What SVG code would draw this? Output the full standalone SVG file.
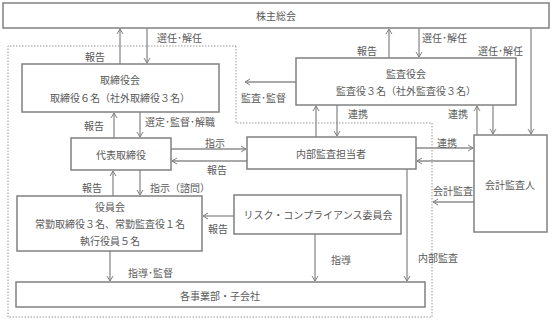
<svg xmlns="http://www.w3.org/2000/svg" width="553" height="321" viewBox="0 0 553 321">
<defs>
<marker id="ah" markerWidth="8" markerHeight="8" refX="6" refY="4" orient="auto" markerUnits="userSpaceOnUse">
<path d="M1,1 L6,4 L1,7" fill="none" stroke="#808080" stroke-width="1"/>
</marker>
<style>
.box{fill:#fff;stroke:#808080;stroke-width:1.5}
.t{font-family:"Noto Sans CJK JP","Noto Sans",sans-serif;font-size:10px;fill:#595959;text-anchor:middle;dominant-baseline:central}
.l{font-family:"Noto Sans CJK JP","Noto Sans",sans-serif;font-size:10px;fill:#595959;dominant-baseline:central}
.c{fill:none;stroke:#8c8c8c;stroke-width:1.3;marker-end:url(#ah)}
.dot{fill:none;stroke:#999;stroke-width:1;stroke-dasharray:1.5 1.5}
</style>
</defs>
<rect width="553" height="321" fill="#fff"/>
<path class="dot" d="M236,46 L236,123 L432,123 L432,317 L8,317 L8,46 Z"/>
<g id="connectors">
<line class="c" x1="120" y1="64" x2="120" y2="29"/>
<line class="c" x1="147" y1="28" x2="147" y2="63"/>
<line class="c" x1="114" y1="138" x2="114" y2="113"/>
<line class="c" x1="140" y1="112" x2="140" y2="137"/>
<line class="c" x1="171" y1="149" x2="246" y2="149"/>
<line class="c" x1="247" y1="161" x2="172" y2="161"/>
<line class="c" x1="113" y1="196" x2="113" y2="171"/>
<line class="c" x1="140" y1="170" x2="140" y2="195"/>
<line class="c" x1="296" y1="82" x2="245" y2="82"/>
<line class="c" x1="316" y1="137" x2="316" y2="106"/>
<line class="c" x1="337" y1="105" x2="337" y2="136"/>
<line class="c" x1="477" y1="135" x2="477" y2="106"/>
<line class="c" x1="493" y1="105" x2="493" y2="134"/>
<line class="c" x1="531" y1="28" x2="531" y2="134"/>
<line class="c" x1="389" y1="58" x2="389" y2="29"/>
<line class="c" x1="419" y1="28" x2="419" y2="57"/>
<line class="c" x1="416" y1="148" x2="473" y2="148"/>
<line class="c" x1="474" y1="161" x2="417" y2="161"/>
<line class="c" x1="474" y1="202" x2="433" y2="202"/>
<line class="c" x1="407" y1="169" x2="407" y2="281"/>
<line class="c" x1="234" y1="216" x2="203" y2="216"/>
<line class="c" x1="315" y1="234" x2="315" y2="281"/>
<line class="c" x1="110" y1="251" x2="110" y2="281"/>
<text class="l" x="85" y="56">報告</text>
<text class="l" x="157" y="37">選任･解任</text>
<text class="l" x="84" y="125">報告</text>
<text class="l" x="145" y="121">選定･監督･解職</text>
<text class="l" x="205" y="142">指示</text>
<text class="l" x="207" y="169">報告</text>
<text class="l" x="82" y="187">報告</text>
<text class="l" x="150" y="187">指示（諮問）</text>
<text class="l" x="241" y="97">監査･監督</text>
<text class="l" x="348" y="113">連携</text>
<text class="l" x="448" y="113">連携</text>
<text class="l" x="357" y="50">報告</text>
<text class="l" x="422" y="37">選任･解任</text>
<text class="l" x="478" y="50">選任･解任</text>
<text class="l" x="437" y="142">連携</text>
<text class="l" x="433" y="190">会計監査</text>
<text class="l" x="418" y="257">内部監査</text>
<text class="l" x="208" y="228">報告</text>
<text class="l" x="331" y="259">指導</text>
<text class="l" x="128" y="272">指導･監督</text>
</g>
<g id="kabunushi">
<rect class="box" x="3" y="3" width="546" height="25"/>
<text class="t" x="276" y="15.5">株主総会</text>
</g>
<g id="torishimariyakukai">
<rect class="box" x="22" y="64" width="197" height="48"/>
<text class="t" x="120" y="79">取締役会</text>
<text class="t" x="120" y="97">取締役６名（社外取締役３名）</text>
</g>
<g id="kansayakukai">
<rect class="box" x="296" y="58" width="220" height="47"/>
<text class="t" x="406" y="73">監査役会</text>
<text class="t" x="406" y="90">監査役３名（社外監査役３名）</text>
</g>
<g id="daihyo">
<rect class="box" x="71" y="138" width="100" height="32"/>
<text class="t" x="121" y="154">代表取締役</text>
</g>
<g id="naibukansa">
<rect class="box" x="247" y="137" width="169" height="32"/>
<text class="t" x="331" y="153">内部監査担当者</text>
</g>
<g id="kaikeikansanin">
<rect class="box" x="474" y="135" width="73" height="97"/>
<text class="t" x="510" y="184">会計監査人</text>
</g>
<g id="yakuinkai">
<rect class="box" x="17" y="196" width="185" height="55"/>
<text class="t" x="110" y="206">役員会</text>
<text class="t" x="110" y="223">常勤取締役３名、常勤監査役１名</text>
<text class="t" x="110" y="240">執行役員５名</text>
</g>
<g id="risk">
<rect class="box" x="234" y="195" width="167" height="39"/>
<text class="t" x="318" y="214">リスク・コンプライアンス委員会</text>
</g>
<g id="jigyobu">
<rect class="box" x="16" y="282" width="409" height="25"/>
<text class="t" x="220" y="295">各事業部・子会社</text>
</g>
</svg>
